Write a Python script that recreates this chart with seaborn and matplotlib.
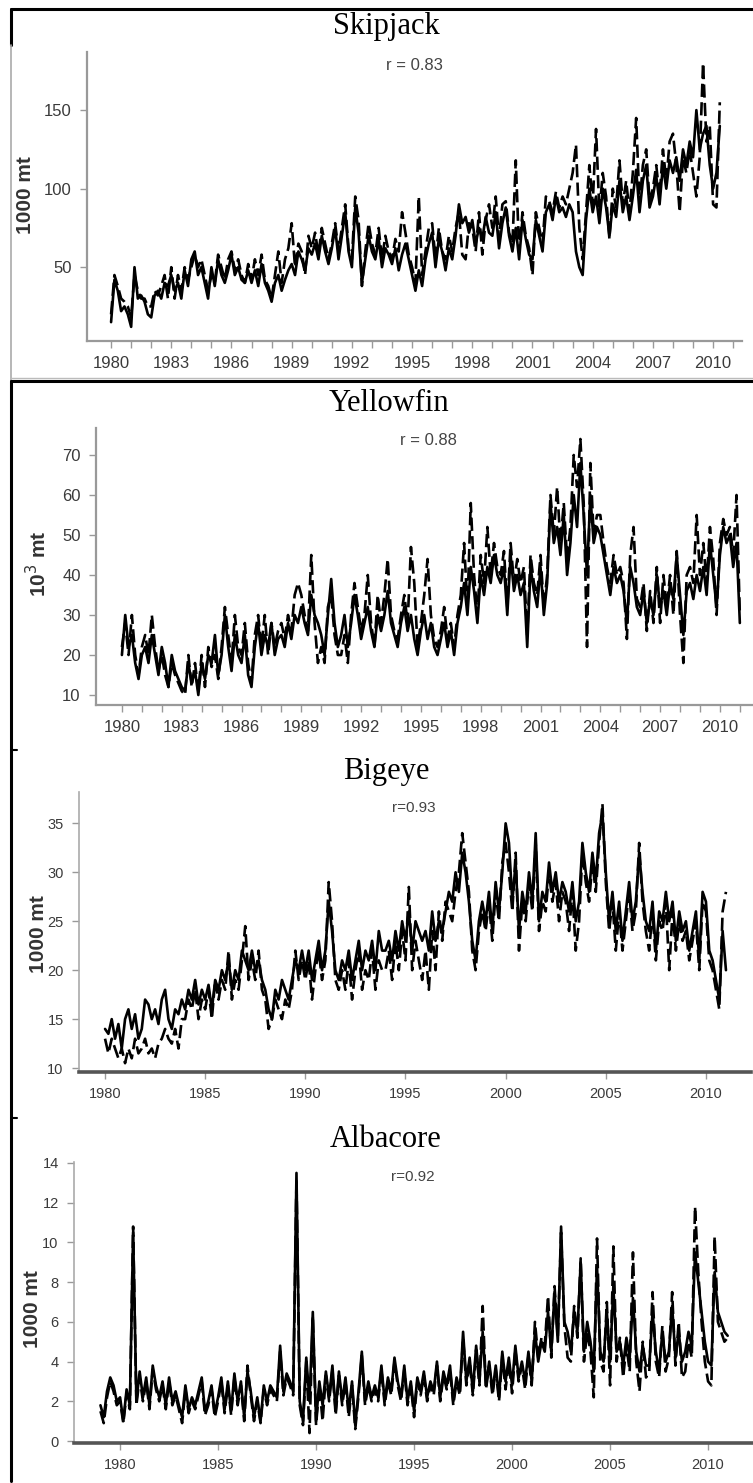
import numpy as np
import matplotlib
matplotlib.use("Agg")
import matplotlib.pyplot as plt
from matplotlib.lines import Line2D
import seaborn as sns

# bimonthly catch series (1000 mt), one line per year
skj_start = 1980
skj_solid = [15, 42, 35, 22, 25, 20,
             12, 50, 30, 32, 28, 20,
             18, 32, 35, 30, 40, 38,
             45, 35, 40, 30, 48, 38,
             55, 60, 45, 50, 40, 30,
             50, 38, 55, 45, 40, 48,
             58, 45, 50, 42, 40, 48,
             40, 48, 38, 52, 40, 35,
             28, 40, 45, 35, 42, 48,
             52, 45, 60, 55, 48, 62,
             58, 65, 55, 70, 60, 52,
             62, 75, 55, 70, 85, 60,
             50, 88, 72, 40, 55, 70,
             60, 55, 68, 50, 62, 58,
             52, 62, 48, 58, 65, 55,
             45, 35, 48, 38, 55, 65,
             72, 50, 68, 60, 48, 62,
             55, 70, 90, 78, 82, 72,
             80, 65, 75, 68, 82, 72,
             70, 85, 62, 78, 88, 70,
             60, 75, 55, 80, 68, 58,
             55, 80, 70, 60, 85, 90,
             80, 95, 85, 88, 82, 90,
             85, 60, 50, 45, 80, 100,
             85, 95, 78, 100, 88, 70,
             90, 82, 105, 85, 95, 80,
             95, 112, 85, 105, 115, 88,
             95, 108, 90, 115, 100, 118,
             110, 120, 105, 125, 115, 130,
             120, 150, 125, 135, 140, 115,
             100, 110, 140]
skj_dashed = [20, 45, 38, 30, 28, 25,
              18, 45, 35, 30, 30, 25,
              25, 35, 32, 38, 45, 30,
              50, 30, 45, 35, 50, 42,
              50, 58, 50, 55, 45, 35,
              45, 40, 58, 50, 42, 55,
              60, 48, 55, 45, 40, 52,
              42, 55, 45, 58, 42, 38,
              30, 45, 60, 40, 55, 62,
              78, 50, 65, 60, 45, 70,
              62, 72, 58, 75, 65, 55,
              65, 78, 60, 75, 90, 62,
              55, 95, 80, 38, 60, 78,
              65, 58, 75, 55, 70, 60,
              55, 68, 60, 85, 72, 58,
              50, 40, 95, 45, 60, 75,
              78, 55, 75, 60, 55, 70,
              60, 75, 85, 58, 55, 78,
              75, 60, 85, 58, 80, 90,
              75, 95, 68, 90, 92, 72,
              65, 118, 60, 85, 70, 62,
              45, 85, 75, 65, 95, 92,
              85, 98, 88, 95, 90, 100,
              110, 128, 75, 55, 85, 115,
              90, 138, 85, 110, 95, 68,
              100, 88, 118, 90, 105, 85,
              110, 145, 90, 115, 125, 92,
              100, 115, 95, 125, 105, 130,
              135, 115, 85, 120, 110, 125,
              110, 95, 120, 180, 130, 140,
              90, 88, 155]

yft_start = 1980
yft_solid = [20, 30, 22, 25, 18, 14,
             20, 22, 18, 25, 20, 15,
             22, 18, 12, 20, 16, 14,
             12, 11, 18, 13, 16, 10,
             18, 14, 20, 18, 25, 15,
             20, 30, 22, 16, 25, 20,
             18, 25, 15, 12, 22, 28,
             20, 25, 22, 28, 20, 24,
             25, 22, 28, 24, 30, 28,
             32, 28, 25, 35, 30, 28,
             25, 20, 30, 39, 28, 22,
             25, 30, 22, 28, 35, 30,
             24, 28, 32, 26, 22, 30,
             26, 30, 36, 28, 25, 22,
             28, 32, 26, 30, 24, 20,
             26, 30, 24, 28, 22, 20,
             24, 28, 22, 26, 20, 28,
             32, 38, 30, 42, 36, 28,
             40, 35, 42, 38, 45, 40,
             38, 42, 30, 45, 36, 40,
             35, 38, 22, 42, 36, 32,
             42, 30, 38, 58, 48, 52,
             45, 55, 40, 48, 60, 52,
             68, 55, 40, 60, 48, 52,
             50, 45, 40, 35, 42, 38,
             40, 36, 28, 42, 38, 32,
             30, 36, 28, 34, 30, 40,
             32, 36, 30, 38, 34, 45,
             35, 25, 36, 38, 34, 40,
             36, 42, 35, 48, 40, 32,
             45, 52, 48, 50, 42, 48,
             28]
yft_dashed = [22, 28, 20, 30, 20, 15,
              22, 25, 20, 30, 22, 16,
              20, 15, 12, 18, 15, 13,
              11, 10, 20, 12, 18, 11,
              20, 12, 22, 17, 20, 14,
              22, 32, 25, 18, 30, 22,
              20, 28, 18, 13, 25, 30,
              22, 30, 20, 28, 22, 26,
              28, 24, 30, 26, 35, 38,
              35, 30, 26, 45, 28, 18,
              22, 18, 32, 35, 25, 20,
              20, 25, 18, 30, 38, 32,
              26, 30, 40, 28, 22, 35,
              28, 35, 44, 30, 26, 24,
              30, 35, 28, 47, 38, 22,
              28, 35, 44, 30, 24, 22,
              26, 32, 24, 28, 22, 30,
              35, 48, 32, 58, 40, 30,
              45, 38, 52, 40, 48, 42,
              40, 46, 32, 48, 38, 44,
              38, 42, 25, 45, 38, 35,
              45, 32, 40, 60, 50, 62,
              48, 58, 44, 52, 70, 62,
              74, 58, 22, 68, 50, 55,
              55, 48, 42, 38, 45, 40,
              42, 38, 24, 45, 52, 34,
              32, 38, 26, 36, 28, 42,
              28, 40, 32, 40, 30, 46,
              30, 18, 40, 42, 38, 55,
              40, 48, 38, 52, 44, 30,
              48, 54, 50, 52, 45, 60,
              30]

bet_start = 1980
bet_solid = [14, 13.5, 15, 13, 14.5, 12,
             15, 16, 14, 15.5, 13, 14,
             17, 16.5, 15, 16, 14.5, 17,
             18, 15, 14, 16, 15.5, 17,
             16, 18, 17, 19, 16.5, 18,
             17, 18.5, 16, 19, 18, 20,
             19, 21, 18, 20, 19, 22,
             21, 20, 22, 20, 21, 19,
             18, 16, 15, 18, 17, 19,
             18, 17, 19, 21, 20, 22,
             20, 22, 19, 21, 23, 20,
             22, 27, 24, 20, 19, 21,
             20, 22, 19, 21, 23, 20,
             22, 21, 23, 20, 24, 22,
             22, 23, 21, 24, 22, 25,
             23, 26, 22, 25, 24, 23,
             24, 22, 26, 23, 25, 24,
             26, 28, 27, 30, 28, 32,
             30, 27, 23, 21, 25, 27,
             25, 28, 24, 29, 26, 30,
             35, 33, 27, 31, 24, 28,
             26, 30, 27, 34, 25, 28,
             27, 31, 28, 30, 27, 29,
             28, 26, 29, 25, 27, 33,
             30, 28, 32, 29, 34, 36,
             30, 25, 28, 24, 27, 23,
             26, 29, 25, 27, 32, 28,
             25, 24, 27, 22, 26, 25,
             28, 25, 27, 23, 26, 24,
             25, 22, 24, 26, 21, 28,
             27, 22, 21, 19, 17, 24,
             20]
bet_dashed = [13, 11.5, 13, 12, 11, 12,
              10.5, 12, 11, 13, 11.5, 12,
              13, 11.5, 12, 11, 12.5, 13,
              14, 13, 12.5, 14, 12, 15,
              15, 17, 16, 18, 15, 17,
              16, 18, 15, 19, 17, 19,
              18, 22, 17, 19, 18, 21,
              24.5, 19, 21, 19, 22, 18,
              17, 14, 15, 17, 16, 15,
              17, 16, 18, 22, 19, 21,
              19, 21, 17, 20, 22, 19,
              21, 29, 25, 19, 18, 20,
              18, 21, 17, 20, 22, 18,
              20, 19, 22, 18, 21, 20,
              20, 22, 19, 23, 20, 24,
              21, 28.5, 20, 23, 21, 19,
              22, 18, 24, 20, 26, 23,
              27, 26, 25, 28, 30, 34,
              31, 28, 22, 20, 24, 26,
              24, 27, 23, 28, 25, 31,
              33, 30, 26, 32, 22, 27,
              25, 29, 26, 33, 24, 27,
              26, 30, 27, 29, 25, 28,
              27, 24, 28, 22, 25, 32,
              29, 27, 31, 28, 33, 37,
              29, 24, 27, 22, 26, 22,
              25, 28, 24, 26, 33, 27,
              24, 22, 26, 21, 25, 24,
              27, 20, 26, 22, 25, 23,
              24, 21, 23, 25, 20, 27,
              26, 21, 20, 18, 16, 26,
              28]

alb_start = 1979
alb_solid = [1.8, 1.2, 2.5, 3.2, 2.8, 2.0,
             2.2, 1.0, 2.6, 1.8, 10.5, 2.0,
             3.5, 2.2, 3.2, 1.8, 3.8, 2.8,
             2.2, 3.0, 1.8, 3.2, 2.0, 2.5,
             1.8, 1.2, 2.8, 1.6, 2.2, 1.8,
             2.5, 3.2, 1.5, 2.0, 2.8, 1.4,
             2.2, 3.2, 1.6, 3.0, 1.5, 3.4,
             2.0, 3.0, 1.2, 3.5, 2.5, 1.2,
             2.2, 1.0, 2.8, 2.0, 2.8, 2.5,
             2.2, 4.8, 2.5, 3.4, 3.0, 2.5,
             13.5, 2.0, 1.0, 4.2, 2.0, 6.5,
             1.0, 3.0, 1.8, 3.5, 2.2, 3.8,
             1.5, 3.5, 2.0, 3.2, 1.5, 3.0,
             0.8, 2.5, 4.5, 2.0, 3.0, 2.2,
             2.8, 2.2, 3.8, 2.0, 3.2, 2.5,
             4.2, 3.0, 2.2, 3.8, 2.0, 3.0,
             1.5, 3.2, 2.5, 3.5, 2.2, 3.0,
             2.5, 4.0, 2.2, 3.5, 2.8, 3.8,
             2.0, 3.2, 2.5, 5.5, 3.0, 4.2,
             2.5, 4.8, 3.0, 5.5, 2.8, 4.0,
             2.5, 3.8, 2.2, 4.5, 3.0, 4.2,
             2.8, 4.8, 3.2, 4.0, 3.0, 4.5,
             3.0, 5.5, 4.0, 5.0, 4.5, 6.5,
             4.5, 7.5, 5.0, 10.8, 6.0, 5.5,
             4.5, 6.5, 5.5, 9.0, 4.5, 6.0,
             5.0, 3.5, 8.8, 4.5, 4.0, 6.5,
             4.0, 7.8, 4.5, 5.0, 3.8, 5.2,
             4.2, 7.2, 4.5, 3.5, 4.8, 3.8,
             3.8, 6.5, 4.5, 3.5, 5.5, 4.0,
             4.5, 6.8, 4.2, 5.5, 4.0, 4.5,
             5.5, 4.8, 9.5, 8.0, 6.5, 5.0,
             4.0, 3.8, 8.5, 6.5, 6.0, 5.5,
             5.3]
alb_dashed = [1.5, 0.9, 2.2, 3.0, 2.5, 1.8,
              2.0, 0.9, 2.4, 1.6, 10.8, 1.8,
              3.2, 2.0, 3.0, 1.6, 3.6, 2.6,
              2.0, 2.8, 1.6, 3.0, 1.8, 2.3,
              1.6, 0.9, 2.6, 1.4, 2.0, 1.6,
              2.3, 3.0, 1.3, 1.8, 2.6, 1.2,
              2.0, 3.0, 1.4, 2.8, 1.3, 3.2,
              1.8, 2.8, 1.0, 3.8, 2.3, 1.0,
              2.0, 0.9, 2.6, 1.8, 2.6, 2.3,
              2.0, 4.5, 2.3, 3.2, 2.8, 2.3,
              13.2, 1.8, 0.8, 4.0, 0.4, 6.3,
              0.8, 2.8, 1.0, 3.3, 2.0, 3.6,
              1.3, 3.3, 1.8, 3.0, 1.2, 2.8,
              0.6, 2.3, 4.3, 1.8, 2.8, 2.0,
              2.6, 2.0, 3.6, 1.8, 3.0, 2.3,
              4.0, 2.8, 2.0, 3.6, 1.8, 2.8,
              1.2, 3.0, 2.3, 3.3, 2.0, 2.8,
              2.3, 3.8, 2.0, 3.3, 2.6, 3.6,
              1.8, 3.0, 2.3, 5.2, 2.8, 4.0,
              2.3, 4.6, 2.8, 6.8, 2.6, 3.8,
              2.3, 3.6, 2.0, 4.3, 2.6, 4.0,
              2.4, 4.6, 3.0, 3.8, 2.6, 4.3,
              2.8, 6.0, 4.2, 5.2, 4.8, 7.3,
              4.2, 7.8, 5.2, 10.5, 5.8, 4.2,
              4.0, 6.8, 5.2, 9.2, 4.0, 5.5,
              4.5, 2.2, 10.2, 4.0, 3.5, 7.0,
              2.8, 9.8, 4.0, 5.2, 3.2, 4.8,
              3.5, 9.5, 4.0, 2.5, 5.0, 3.2,
              3.5, 7.5, 4.0, 3.2, 5.8, 3.5,
              4.2, 7.5, 3.8, 6.0, 3.2, 3.5,
              5.0, 4.2, 11.8, 8.5, 6.0, 4.0,
              3.0, 2.8, 10.3, 6.0, 5.5, 5.0,
              5.2]

titles = ["Skipjack", "Yellowfin", "Bigeye", "Albacore"]
r_labels = ["r = 0.83", "r = 0.88", "r=0.93", "r=0.92"]
y_labels = ["1000 mt", "10$^3$ mt", "1000 mt", "1000 mt"]

sns.set_theme(style="ticks")
plt.rcParams["font.family"] = ["Liberation Sans", "DejaVu Sans"]

W, H = 753, 1483
fig = plt.figure(figsize=(W / 100, H / 100), dpi=100)


def fx(x):
    return x / W


def fy(y):
    return 1 - y / H


# panel boxes in pixels: left, top, right, bottom
boxes = [(87, 52, 742, 341), (96, 428, 753, 705), (79, 792, 751, 1072), (74, 1162, 752, 1443)]
xlims = [(1978.8, 2011.44), (1978.7, 2011.66), (1978.7, 2012.25), (1977.65, 2012.24)]
ylims = [(3, 187), (7.5, 76.75), (9.6, 38.2), (-0.1, 14.05)]
yticks = [[50, 100, 150], range(10, 71, 10), range(10, 36, 5), range(0, 15, 2)]
series = [(skj_start, skj_solid, skj_dashed), (yft_start, yft_solid, yft_dashed),
          (bet_start, bet_solid, bet_dashed), (alb_start, alb_solid, alb_dashed)]
title_pos = [(386, 34), (389, 411), (386, 779), (386, 1147)]
r_pos = [(414, 70), (428, 445), (414, 812), (413, 1181)]
ylab_pos = [(26, 195), (38, 564), (38, 934), (33, 1309)]

for i in range(4):
    l, t, r, b = boxes[i]
    ax = fig.add_axes([fx(l), fy(b), (r - l) / W, (b - t) / H])
    start, solid, dashed = series[i]
    ts = start + np.arange(len(solid)) / 6
    td = start + np.arange(len(dashed)) / 6
    sns.lineplot(x=ts, y=solid, ax=ax, color="black", linewidth=1.9, estimator=None)
    sns.lineplot(x=td, y=dashed, ax=ax, color="black", linewidth=1.9, estimator=None,
                 linestyle=(0, (5, 2)))
    ax.set_xlim(*xlims[i])
    ax.set_ylim(*ylims[i])
    ax.set_yticks(list(yticks[i]))
    sns.despine(ax=ax)
    narrow = i >= 2
    if narrow:
        ax.set_xticks(range(1980, 2011, 5))
        ax.spines["bottom"].set_color("#555555")
        ax.spines["bottom"].set_linewidth(2.6)
        ax.spines["left"].set_color("#aaaaaa")
        ax.spines["left"].set_linewidth(1.2)
        lsize, rsize = 10.5, 11
    else:
        ax.set_xticks(range(1980, 2011, 3))
        ax.set_xticks(range(1980, 2012), minor=True)
        for s in ["bottom", "left"]:
            ax.spines[s].set_color("#999999")
            ax.spines[s].set_linewidth(1.6)
        lsize, rsize = 12, 12
    ax.tick_params(which="both", direction="out", length=5, width=1, color="#999999",
                   labelcolor="#3a3a3a", labelsize=lsize, pad=6)
    ax.set_xlabel("")
    ax.set_ylabel("")
    ax.set_facecolor("white")

    fig.text(fx(title_pos[i][0]), fy(title_pos[i][1]), titles[i], ha="center",
             va="baseline", fontsize=22, family=["Liberation Serif", "DejaVu Serif"],
             color="black")
    fig.text(fx(r_pos[i][0]), fy(r_pos[i][1]), r_labels[i], ha="center", va="baseline",
             fontsize=rsize, color="#444444")
    fig.text(fx(ylab_pos[i][0]), fy(ylab_pos[i][1]), y_labels[i], ha="center",
             va="center", rotation=90, fontsize=15, fontweight="bold", color="#333333")

# frame lines of the composite figure
frame = [((11, 753), (9, 9), "black", 2.2),
         ((11, 11), (9, 45), "black", 2.2),
         ((11, 11), (45, 380), "#aaaaaa", 1.2),
         ((11, 753), (378, 378), "#bbbbbb", 1.0),
         ((11, 753), (381, 381), "black", 2.2),
         ((11, 11), (381, 1481), "black", 2.2),
         ((11, 17), (750, 750), "black", 1.5),
         ((11, 17), (1118, 1118), "black", 1.5)]
for xs, ys, c, lw in frame:
    fig.add_artist(Line2D([fx(v) for v in xs], [fy(v) for v in ys], color=c, lw=lw,
                          transform=fig.transFigure))

fig.savefig("out.png", dpi=100, facecolor="white")
